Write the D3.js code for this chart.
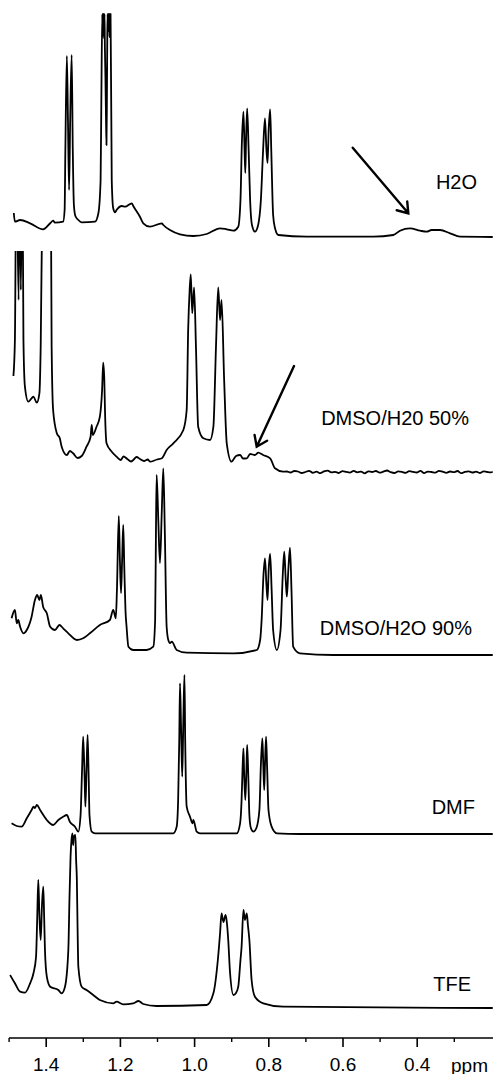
<!DOCTYPE html>
<html>
<head>
<meta charset="utf-8">
<script src="https://cdn.jsdelivr.net/npm/d3@7"></script>
<style>
  html, body { margin: 0; padding: 0; background: #fff; }
  svg { display: block; }
  .trace { fill: none; stroke: #000; stroke-width: 1.8; stroke-linejoin: round; }
  .label, .tick text, .unit { font-family: "Liberation Sans", Arial, sans-serif; fill: #000; }
</style>
</head>
<body>
<div id="chart"></div>
<script>
// spectra: [ppm, intensity (a.u.)]
var h2oTrace = [
  [1.486,24],[1.483,15.3],[1.469,17],[1.442,13.7],[1.407,7.7],[1.388,13.7],[1.380,16.3],[1.375,14.3],[1.353,15.3],
  [1.349,27],[1.347,87],[1.343,181],[1.340,117],[1.337,47],[1.334,117],[1.330,182],[1.327,87],[1.324,32],[1.320,21],
  [1.312,17],[1.303,14.7],[1.267,15.3],[1.258,23.7],[1.252,57],[1.250,137],
  [1.2475,223],[1.2465,200],[1.2455,223],[1.2445,205],[1.2435,223],[1.2425,198],[1.2415,223],[1.2405,190],
  [1.239,160],[1.2375,120],[1.2362,92],[1.235,140],[1.234,200],[1.2332,223],[1.2322,205],[1.2312,223],
  [1.2302,208],[1.2292,223],[1.2282,200],[1.2272,223],[1.2262,206],[1.2252,223],
  [1.222,57],[1.218,28.7],[1.213,24.7],[1.209,27],[1.195,31],[1.186,30.3],[1.168,33.7],[1.164,31],[1.146,20.3],
  [1.137,13.7],[1.119,10.3],[1.087,13.7],[1.083,12],[1.065,7],[1.038,2.7],[1.002,1],[0.966,3],[0.930,8.7],
  [0.912,7.7],[0.894,6.3],[0.881,10.3],
  [0.875,37],[0.871,97],[0.867,125.3],[0.864,87],[0.862,64],[0.860,97],[0.857,128.7],[0.853,87],[0.849,37],[0.844,12],
  [0.836,5.3],[0.828,11],[0.820,37],[0.814,87],[0.809,118.7],[0.805,87],[0.802,74],[0.799,107],[0.795,127.7],
  [0.792,87],[0.787,22],[0.782,9],[0.773,2],[0.697,0.3],[0.517,0.3],[0.463,2],[0.445,6.3],[0.418,8.7],[0.391,6.3],
  [0.373,5.3],[0.360,7],[0.337,7],[0.310,3.7],[0.283,0.3],[0.195,0]
];

var dmso50Trace = [
  [1.487,96],[1.483,132],[1.479,322],[1.473,172],[1.470,322],[1.467,182],[1.463,322],[1.460,132],[1.456,85.3],
  [1.447,70.3],[1.438,73.7],[1.433,75.3],[1.424,69.3],[1.417,78.7],[1.4135,125.3],[1.409,272],[1.397,372],
  [1.386,272],[1.384,125.3],[1.380,62],[1.370,38.7],[1.362,33.7],[1.357,25.3],[1.343,17],[1.335,21],[1.326,18.7],
  [1.314,14],[1.303,16],[1.290,25.3],[1.279,35.3],[1.276,47],[1.273,37],[1.263,45.3],[1.254,55.3],[1.248,82],
  [1.245,109.3],[1.242,92],[1.240,58.7],[1.236,28.7],[1.222,20.3],[1.209,15.3],[1.198,12],[1.190,15.5],[1.180,13],
  [1.170,10.5],[1.164,12],[1.155,15],[1.146,13],[1.135,11],[1.125,12.5],[1.119,10.3],[1.100,12.5],[1.087,13.7],
  [1.074,22],[1.056,28.7],[1.029,42],[1.020,62],[1.016,142],[1.012,182],[1.009,197.7],[1.005,158.7],[1.000,184.7],
  [0.995,125.3],[0.989,45.3],[0.975,33.7],[0.957,32],[0.948,45.3],[0.941,125.3],[0.935,184.7],[0.930,152],
  [0.926,172],[0.919,92],[0.912,28.7],[0.899,10.3],[0.893,13],[0.887,16],[0.876,17],[0.868,13.5],[0.858,13.7],
  [0.849,18],[0.836,17],[0.827,19.3],[0.814,17],[0.795,13.7],[0.782,3.7],[0.760,0.3],
  [0.75,0.5],[0.74,-0.5],[0.73,1],[0.72,0.5],[0.71,-1],[0.70,0],[0.69,1.2],[0.68,-0.8],[0.67,0.3],[0.66,-1.2],
  [0.65,0.6],[0.64,1.4],[0.63,-0.4],[0.62,0.2],[0.61,-1],[0.60,0.8],[0.59,0.1],[0.58,-0.6],[0.57,1.1],[0.56,-0.3],
  [0.55,0.4],[0.54,-1.3],[0.53,0.7],[0.52,0],[0.51,1],[0.50,-0.7],[0.49,0.3],[0.48,1.5],[0.47,-0.2],[0.46,-1],
  [0.45,0.6],[0.44,0.1],[0.43,-0.9],[0.42,0.8],[0.41,0.2],[0.40,-0.5],[0.39,1.1],[0.38,-1.1],[0.37,0.4],[0.36,0],
  [0.35,-0.6],[0.34,1.2],[0.33,0.3],[0.32,-0.8],[0.31,0.5],[0.30,-0.2],[0.29,1],[0.28,-1.2],[0.27,0.2],[0.26,0.7],
  [0.25,-0.5],[0.24,0.4],[0.23,-1],[0.22,0.6],[0.21,0],[0.20,-0.4],[0.195,0.3]
];

var dmso90Trace = [
  [1.492,36.7],[1.483,45],[1.478,31.7],[1.474,35],[1.469,28.3],[1.460,21.7],[1.451,25],[1.438,38.3],[1.429,55],
  [1.423,60],[1.417,55],[1.413,60],[1.407,48.3],[1.397,41.7],[1.388,28.3],[1.375,25],[1.363,30],[1.353,26.7],
  [1.339,21.7],[1.316,15],[1.299,16.7],[1.281,21.7],[1.254,30],[1.227,35],[1.218,45],[1.211,36.7],
  [1.208,65],[1.203,139],[1.200,95],[1.197,62],[1.194,95],[1.191,130],[1.188,85],[1.185,45],[1.182,28.3],
  [1.177,8.3],[1.164,5],[1.128,5],[1.110,8.3],[1.105,35],[1.103,115],[1.101,180],[1.0965,135],[1.092,92],
  [1.087,145],[1.083,186.7],[1.079,125],[1.074,28.3],[1.0695,15],[1.065,12],[1.060,13.3],[1.047,5],[1.020,2.3],
  [0.894,1.7],[0.831,5],[0.822,15],[0.818,35],[0.813,80],[0.809,96.7],[0.805,70],[0.802,55],[0.799,85],
  [0.795,101],[0.791,65],[0.787,25],[0.777,5],[0.767,25],[0.761,80],[0.757,103.3],[0.753,75],[0.750,58.3],
  [0.746,85],[0.7415,107.3],[0.7375,65],[0.733,8.3],[0.715,1.7],[0.625,0],[0.195,0]
];

var dmfTrace = [
  [1.492,10.7],[1.478,8],[1.465,7.3],[1.451,15.7],[1.438,24],[1.433,27.3],[1.429,26],[1.424,29],[1.415,24],
  [1.397,14],[1.380,9],[1.366,14],[1.353,17.3],[1.343,19],[1.335,12.3],[1.321,7.3],[1.312,2.3],
  [1.306,19],[1.302,64],[1.299,97.3],[1.295,54],[1.293,27.3],[1.290,64],[1.287,99],[1.284,54],[1.282,19],
  [1.276,2.3],[1.267,0.7],[1.056,0.7],[1.047,7.3],[1.043,34],[1.040,94],[1.038,150.7],[1.035,104],[1.032,57.3],
  [1.029,114],[1.026,159],[1.024,94],[1.020,27.3],[1.011,17.3],[1.004,10.7],[1.002,14],[0.993,2.3],[0.984,0.7],
  [0.885,0.7],[0.876,10.7],[0.872,34],[0.8695,64],[0.867,85.7],[0.865,59],[0.862,34],[0.859,64],[0.857,89],
  [0.854,59],[0.851,19],[0.847,6],[0.840,2.3],[0.832,6],[0.824,24],[0.820,69],[0.816,95.7],[0.8135,69],
  [0.811,44],[0.809,69],[0.806,97.3],[0.803,64],[0.7995,24],[0.791,7.3],[0.777,0.7],[0.715,0],[0.195,0]
];

var tfeTrace = [
  [1.496,33],[1.483,24.7],[1.469,16.3],[1.456,15.3],[1.442,24.7],[1.433,34.7],[1.426,51.3],[1.423,88],
  [1.420,128],[1.417,93],[1.4135,68],[1.410,103],[1.4065,121.3],[1.404,88],[1.402,58],[1.397,31.3],[1.388,21.3],
  [1.366,18],[1.357,14.7],[1.348,21.3],[1.339,58],[1.336,108],[1.333,151.3],[1.3305,168],[1.328,174.7],
  [1.326,163],[1.324,171.3],[1.320,173],[1.318,148],[1.316,128],[1.314,78],[1.312,41.3],[1.303,21.3],
  [1.290,18],[1.272,13],[1.254,8],[1.218,4.7],[1.209,6.3],[1.191,3.7],[1.164,4.7],[1.150,7],[1.137,4],
  [1.101,2],[0.966,3],[0.948,14.7],[0.936,48],[0.930,74.7],[0.926,94.7],[0.921,86],[0.915,93],[0.911,83],
  [0.908,68],[0.903,34.7],[0.894,13],[0.887,15],[0.881,21.3],[0.875,48],[0.872,61.3],[0.867,98],[0.863,88],
  [0.858,94.7],[0.855,83],[0.851,68],[0.845,28],[0.836,11.3],[0.8135,4.7],[0.760,1.3],[0.195,0]
];

var labels = ["H2O", "DMSO/H20 50%", "DMSO/H2O 90%", "DMF", "TFE"];
var majorTicks = [1.4, 1.2, 1.0, 0.8, 0.6, 0.4];
var minorTicks = [1.5, 1.3, 1.1, 0.9, 0.7, 0.5, 0.3];
// arrows: [from ppm, from intensity, to ppm, to intensity]
var h2oArrow = [0.5725, 89.3, 0.4226, 23.7];
var dmso50Arrow = [0.7307, 106, 0.8313, 25.3];

var width = 493, height = 1074;

// layout of each stacked spectrum
var layout = [
  { trace: h2oTrace,    base: 237,  labelX: 477, labelY: 189, arrow: h2oArrow },
  { trace: dmso50Trace, base: 472,  labelX: 469, labelY: 425, arrow: dmso50Arrow, ceiling: 221 },
  { trace: dmso90Trace, base: 655,  labelX: 472, labelY: 635 },
  { trace: dmfTrace,    base: 834,  labelX: 475, labelY: 814 },
  { trace: tfeTrace,    base: 1008, labelX: 471, labelY: 991 }
];

var svg = d3.select("#chart").append("svg")
  .attr("width", width)
  .attr("height", height);

var x = d3.scaleLinear().domain([1.5, 0.2]).range([8.6, 490.9]);

layout.forEach(function (s, i) {
  var y = d3.scaleLinear().domain([0, 100]).range([s.base, s.base - 100]);
  var line = d3.line()
    .curve(d3.curveMonotoneX)
    .x(function (d) { return x(d[0]); })
    .y(function (d) { return y(d[1]); });

  var g = svg.append("g").attr("class", "spectrum");

  var path = g.append("path")
    .datum(s.trace)
    .attr("class", "trace")
    .attr("d", line);

  if (s.ceiling) {
    var clipId = "clip" + i;
    svg.append("clipPath").attr("id", clipId)
      .append("rect")
      .attr("x", 0)
      .attr("y", y(s.ceiling))
      .attr("width", width)
      .attr("height", s.base - y(s.ceiling) + 40);
    path.attr("clip-path", "url(#" + clipId + ")");
  }

  g.append("text")
    .attr("class", "label")
    .attr("x", s.labelX)
    .attr("y", s.labelY)
    .attr("text-anchor", "end")
    .attr("font-size", "20px")
    .text(labels[i]);

  if (s.arrow) {
    var x1 = x(s.arrow[0]), y1 = y(s.arrow[1]);
    var x2 = x(s.arrow[2]), y2 = y(s.arrow[3]);
    var ang = Math.atan2(y1 - y2, x1 - x2);
    var len = 12, spread = 35 * Math.PI / 180;
    var head = [ang - spread, ang + spread].map(function (a) {
      return [x2 + len * Math.cos(a), y2 + len * Math.sin(a)];
    });
    g.append("path")
      .attr("fill", "none")
      .attr("stroke", "#000")
      .attr("stroke-width", 2.4)
      .attr("stroke-linecap", "round")
      .attr("d", "M" + x1 + "," + y1 + "L" + x2 + "," + y2 +
                 "M" + head[0][0] + "," + head[0][1] + "L" + x2 + "," + y2 +
                 "L" + head[1][0] + "," + head[1][1]);
  }
});

// axis
var axisY = 1038;
var axisG = svg.append("g")
  .attr("transform", "translate(0," + axisY + ")");

axisG.append("line")
  .attr("x1", 9).attr("x2", 493)
  .attr("y1", 0).attr("y2", 0)
  .attr("stroke", "#000").attr("stroke-width", 1.6);

var major = axisG.append("g")
  .call(d3.axisBottom(x).tickValues(majorTicks).tickSize(9).tickSizeOuter(0)
    .tickPadding(11).tickFormat(d3.format(".1f")));
major.select(".domain").remove();
major.selectAll(".tick line").attr("stroke-width", 1.6);
major.selectAll(".tick text").attr("font-size", "19px").attr("font-family", null);

var minor = axisG.append("g")
  .call(d3.axisBottom(x).tickValues(minorTicks).tickSize(4).tickSizeOuter(0).tickFormat(""));
minor.select(".domain").remove();
minor.selectAll(".tick line").attr("stroke-width", 1.4);

axisG.append("text")
  .attr("class", "unit")
  .attr("x", 451)
  .attr("y", 33.5)
  .attr("font-size", "19px")
  .text("ppm");
</script>
</body>
</html>
